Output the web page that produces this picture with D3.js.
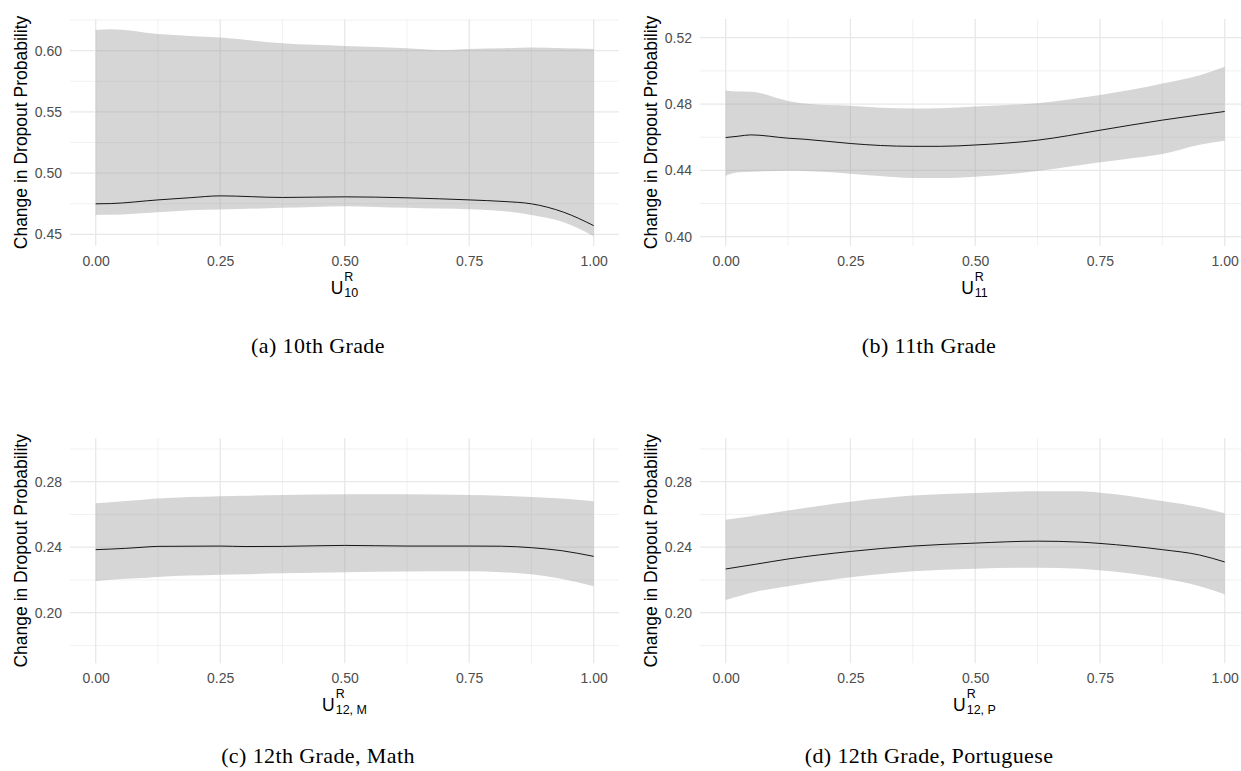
<!doctype html>
<html lang="en">
<head>
<meta charset="utf-8">
<script src="https://d3js.org/d3.v7.min.js"></script>
<style>
  body { margin: 0; background: #fff; }
  .tick text { font-family: "Liberation Sans", Arial, sans-serif; font-size: 14px; fill: #4d4d4d; }
  .axis-title { font-family: "Liberation Sans", Arial, sans-serif; fill: #000; }
  .caption { font-family: "Liberation Serif", "Times New Roman", serif; font-size: 22px; letter-spacing: 0.4px; fill: #000; }
</style>
</head>
<body>
<svg id="chart" width="1241" height="771"></svg>
<script>
// ---- data ----
const xTicks = [0, 0.25, 0.5, 0.75, 1];
const xMinor = [0.125, 0.375, 0.625, 0.875];

// (a) 10th grade
const xA     = [0, 0.03, 0.125, 0.19, 0.25, 0.375, 0.5, 0.625, 0.69, 0.75, 0.82, 0.875, 0.94, 1.0];
const fitA   = [0.4749, 0.4751, 0.4781, 0.4799, 0.4814, 0.4801, 0.4806, 0.4798, 0.4790, 0.4781, 0.4768, 0.4749, 0.4680, 0.4571];
const lowA   = [0.4658, 0.4659, 0.4680, 0.4697, 0.4702, 0.4716, 0.4730, 0.4716, 0.4710, 0.4705, 0.4689, 0.4658, 0.4598, 0.4484];
const upA    = [0.6170, 0.6175, 0.6137, 0.6120, 0.6107, 0.6060, 0.6038, 0.6020, 0.6005, 0.6014, 0.6020, 0.6027, 0.6020, 0.6014];
const yTicksA = [0.45, 0.50, 0.55, 0.60];
const yMinorA = [0.475, 0.525, 0.575, 0.625];

// (b) 11th grade
const xB     = [0, 0.025, 0.05, 0.125, 0.157, 0.25, 0.31, 0.375, 0.43, 0.5, 0.625, 0.75, 0.81, 0.875, 0.95, 1.0];
const fitB   = [0.4598, 0.4606, 0.4614, 0.4594, 0.4588, 0.4562, 0.4550, 0.4545, 0.4545, 0.4553, 0.4582, 0.4642, 0.4672, 0.4703, 0.4735, 0.4755];
const lowB   = [0.4368, 0.4388, 0.4392, 0.4398, 0.4396, 0.4380, 0.4366, 0.4354, 0.4354, 0.4362, 0.4396, 0.4449, 0.4472, 0.4499, 0.4555, 0.4578];
const upB    = [0.4882, 0.4875, 0.4874, 0.4819, 0.4803, 0.4789, 0.4777, 0.4773, 0.4775, 0.4785, 0.4805, 0.4854, 0.4884, 0.4924, 0.4974, 0.5025];
const yTicksB = [0.40, 0.44, 0.48, 0.52];
const yMinorB = [0.42, 0.46, 0.50];

// (c) 12th grade, math
const xC     = [0, 0.06, 0.105, 0.125, 0.25, 0.3, 0.375, 0.5, 0.625, 0.75, 0.815, 0.875, 0.935, 1.0];
const fitC   = [0.2385, 0.2393, 0.2402, 0.2405, 0.2407, 0.2404, 0.2405, 0.2411, 0.2407, 0.2407, 0.2406, 0.2397, 0.2379, 0.2344];
const lowC   = [0.2194, 0.2207, 0.2214, 0.2218, 0.2231, 0.2235, 0.2241, 0.2247, 0.2251, 0.2253, 0.2247, 0.2235, 0.2208, 0.2162];
const upC    = [0.2668, 0.2682, 0.2693, 0.2697, 0.2711, 0.2714, 0.2719, 0.2723, 0.2723, 0.2719, 0.2714, 0.2707, 0.2697, 0.2680];
const yTicksC = [0.20, 0.24, 0.28];
const yMinorC = [0.18, 0.22, 0.26, 0.30];

// (d) 12th grade, portuguese
const xD     = [0, 0.06, 0.125, 0.25, 0.375, 0.5, 0.625, 0.71, 0.75, 0.875, 0.95, 1.0];
const fitD   = [0.2267, 0.2296, 0.2328, 0.2374, 0.2407, 0.2425, 0.2437, 0.2431, 0.2423, 0.2385, 0.2352, 0.2310];
const lowD   = [0.2077, 0.2128, 0.2162, 0.2216, 0.2253, 0.2269, 0.2275, 0.2268, 0.2259, 0.2210, 0.2162, 0.2113];
const upD    = [0.2567, 0.2593, 0.2624, 0.2678, 0.2715, 0.2731, 0.2741, 0.2741, 0.2733, 0.2682, 0.2644, 0.2607];
const yTicksD = yTicksC;
const yMinorD = yMinorC;

const subLabels = ["10", "11", "12, M", "12, P"];
const captions = ["(a) 10th Grade", "(b) 11th Grade", "(c) 12th Grade, Math", "(d) 12th Grade, Portuguese"];
const yTitle = "Change in Dropout Probability";

// ---- layout ----
const cols = [
  { left: 70, right: 619, x0: 95.7, x1: 593.7, off: 0, cap: 318 },
  { left: 700, right: 1249, x0: 725.7, x1: 1224.7, off: 630, cap: 929 }
];
const rows = [
  { top: 19, bottom: 246, capY: 353 },
  { top: 438.3, bottom: 663.3, capY: 763 }
];

const panels = [
  { c: 0, r: 0, xs: xA, fit: fitA, low: lowA, up: upA, yt: yTicksA, ym: yMinorA, yd: [0.45, 0.60], yr: [234.3, 50.7] },
  { c: 1, r: 0, xs: xB, fit: fitB, low: lowB, up: upB, yt: yTicksB, ym: yMinorB, yd: [0.40, 0.52], yr: [236.7, 37.7] },
  { c: 0, r: 1, xs: xC, fit: fitC, low: lowC, up: upC, yt: yTicksC, ym: yMinorC, yd: [0.20, 0.28], yr: [612.7, 481.7] },
  { c: 1, r: 1, xs: xD, fit: fitD, low: lowD, up: upD, yt: yTicksD, ym: yMinorD, yd: [0.20, 0.28], yr: [612.7, 481.7] }
];

const svg = d3.select("#chart");
svg.append("rect").attr("width", 1241).attr("height", 771).attr("fill", "#fff");

const fmt = d3.format(".2f");

panels.forEach((p, i) => {
  const col = cols[p.c], row = rows[p.r];
  const x = d3.scaleLinear().domain([0, 1]).range([col.x0, col.x1]);
  const y = d3.scaleLinear().domain(p.yd).range(p.yr);
  const g = svg.append("g");

  // grid
  const grid = g.append("g");
  grid.selectAll(".hmin").data(p.ym).join("line")
    .attr("x1", col.left).attr("x2", col.right)
    .attr("y1", d => y(d)).attr("y2", d => y(d))
    .attr("stroke", "#ebebeb").attr("stroke-width", 0.7);
  grid.selectAll(".vmin").data(xMinor).join("line")
    .attr("y1", row.top).attr("y2", row.bottom)
    .attr("x1", d => x(d)).attr("x2", d => x(d))
    .attr("stroke", "#ebebeb").attr("stroke-width", 0.7);
  grid.selectAll(".hmaj").data(p.yt).join("line")
    .attr("x1", col.left).attr("x2", col.right)
    .attr("y1", d => y(d)).attr("y2", d => y(d))
    .attr("stroke", "#e8e8e8").attr("stroke-width", 1.3);
  grid.selectAll(".vmaj").data(xTicks).join("line")
    .attr("y1", row.top).attr("y2", row.bottom)
    .attr("x1", d => x(d)).attr("x2", d => x(d))
    .attr("stroke", "#e8e8e8").attr("stroke-width", 1.3);

  const pts = p.xs.map((v, k) => ({ x: v, fit: p.fit[k], lo: p.low[k], hi: p.up[k] }));

  const area = d3.area()
    .x(d => x(d.x)).y0(d => y(d.lo)).y1(d => y(d.hi))
    .curve(d3.curveMonotoneX);
  g.append("path").datum(pts).attr("d", area)
    .attr("fill", "#999999").attr("fill-opacity", 0.4);

  const line = d3.line().x(d => x(d.x)).y(d => y(d.fit)).curve(d3.curveMonotoneX);
  g.append("path").datum(pts).attr("d", line)
    .attr("fill", "none").attr("stroke", "#000").attr("stroke-width", 0.9);

  // axes (labels only)
  const ay = g.append("g").attr("transform", `translate(${col.left},0)`)
    .call(d3.axisLeft(y).tickValues(p.yt).tickSize(0).tickPadding(8).tickFormat(fmt));
  ay.select(".domain").remove();
  const ax = g.append("g").attr("transform", `translate(0,${row.bottom})`)
    .call(d3.axisBottom(x).tickValues(xTicks).tickSize(0).tickPadding(10).tickFormat(fmt));
  ax.select(".domain").remove();
  g.selectAll(".tick text").attr("font-family", null).attr("font-size", null);

  // y title
  g.append("text").attr("class", "axis-title")
    .attr("transform", `translate(${col.off + 26.5},${(row.top + row.bottom) / 2}) rotate(-90)`)
    .attr("text-anchor", "middle").attr("font-size", 17.5)
    .text(yTitle);

  // x title: U with superscript R and subscript
  const cx = (col.left + col.right) / 2;
  const base = row.bottom + 48;
  const tg = g.append("g");
  const u = tg.append("text").attr("class", "axis-title").attr("font-size", 17.5).attr("y", base).text("U");
  const sup = tg.append("text").attr("class", "axis-title").attr("font-size", 12.5).attr("y", base - 13).text("R");
  const sub = tg.append("text").attr("class", "axis-title").attr("font-size", 12.5).attr("y", base + 3).text(subLabels[i]);
  const wu = u.node().getComputedTextLength();
  const ws = Math.max(sup.node().getComputedTextLength(), sub.node().getComputedTextLength());
  const x0 = cx - (wu + 1 + ws) / 2;
  u.attr("x", x0);
  sup.attr("x", x0 + wu + 1);
  sub.attr("x", x0 + wu + 1);

  // caption
  svg.append("text").attr("class", "caption")
    .attr("x", col.cap).attr("y", row.capY).attr("text-anchor", "middle")
    .text(captions[i]);
});
</script>
</body>
</html>
